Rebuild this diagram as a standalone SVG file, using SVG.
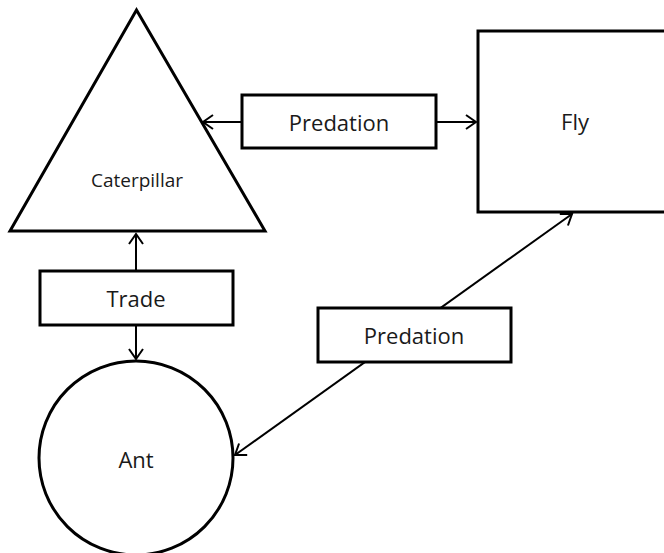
<svg xmlns="http://www.w3.org/2000/svg" width="664" height="553" viewBox="0 0 664 553">
  <style>
    .shape { fill: #fff; stroke: #000; stroke-width: 3; stroke-linejoin: miter; }
    .box { fill: #fff; stroke: #000; stroke-width: 3; }
    .link { fill: none; stroke: #000; stroke-width: 2; marker-start: url(#arrow); marker-end: url(#arrow); }
    .label { font-family: "Open Sans", "Noto Sans", sans-serif; font-size: 22px; fill: #1a1a1a; text-anchor: middle; }
    .small { font-size: 19px; }
  </style>
  <defs>
    <marker id="arrow" viewBox="-12 -9 14 18" refX="0" refY="0" markerWidth="14" markerHeight="18" markerUnits="userSpaceOnUse" orient="auto-start-reverse">
      <path d="M-10,-7 L0,0 L-10,7" fill="none" stroke="#000" stroke-width="2"/>
    </marker>
  </defs>
  <rect width="664" height="553" fill="#fff"/>

  <!-- connectors (label boxes sit on top of them) -->
  <g id="connectors">
    <path class="link" d="M203,122 L476,122"/>
    <path class="link" d="M136,234 L136,359"/>
    <path class="link" d="M235,455 L572,214"/>
  </g>

  <g id="caterpillar">
    <polygon class="shape" points="136.5,10 10,231 265,231"/>
    <text class="label small" x="137" y="187">Caterpillar</text>
  </g>

  <g id="fly">
    <rect class="shape" x="478" y="31" width="196" height="181"/>
    <text class="label" x="575" y="130">Fly</text>
  </g>

  <g id="ant">
    <circle class="shape" cx="136" cy="458" r="97"/>
    <text class="label" x="136" y="468">Ant</text>
  </g>

  <g id="predation-top">
    <rect class="box" x="242" y="95" width="194" height="53"/>
    <text class="label" x="339" y="131">Predation</text>
  </g>

  <g id="trade">
    <rect class="box" x="40" y="271" width="193" height="54"/>
    <text class="label" x="136" y="307">Trade</text>
  </g>

  <g id="predation-bottom">
    <rect class="box" x="318" y="308" width="193" height="54"/>
    <text class="label" x="414" y="344">Predation</text>
  </g>
</svg>
